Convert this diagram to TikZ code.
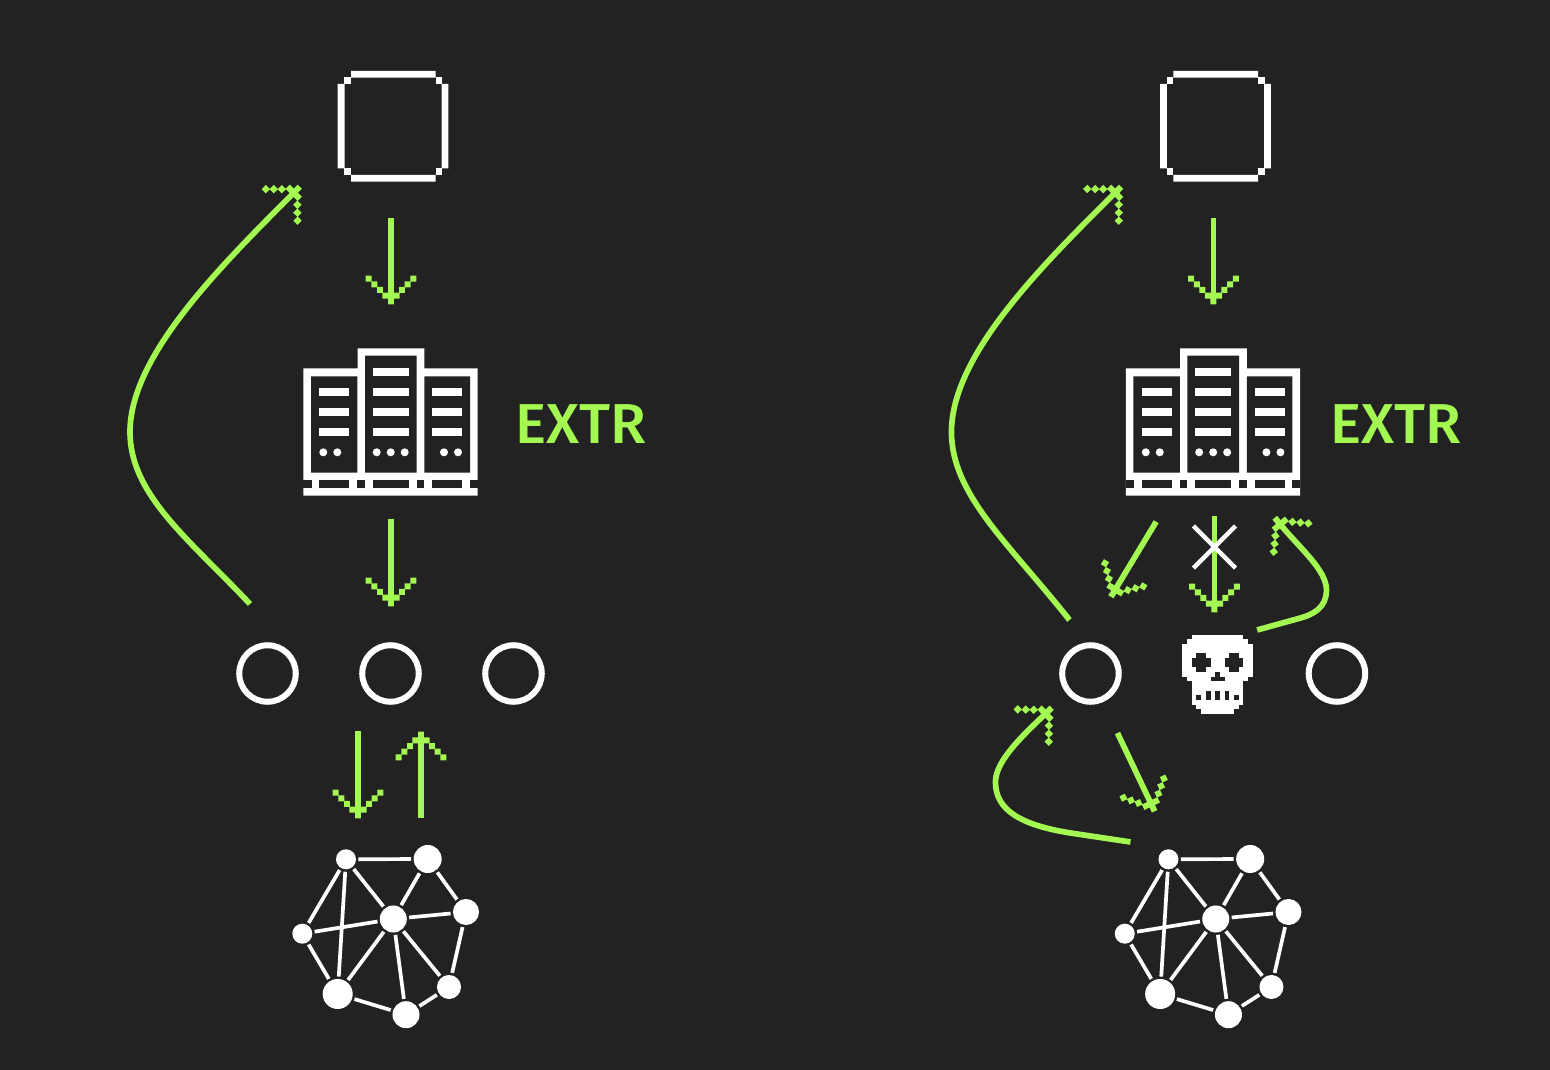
\documentclass[tikz,border=0pt]{standalone}
\usepackage{fontspec}
\setsansfont[BoldFont={Fira Sans Medium}]{Fira Sans}
\usetikzlibrary{arrows.meta,shapes.misc}
\definecolor{panelbg}{RGB}{34,34,34}
\definecolor{limeline}{RGB}{163,248,82}
\pgfdeclarearrow{
  name=PixelHead,
  setup code={
    \pgfarrowssettipend{0pt}
    \pgfarrowssetlineend{-2pt}
    \pgfarrowssetvisualbackend{-7.5pt}
    \pgfarrowssetbackend{-7.5pt}
  },
  drawing code={
    \pgfpathrectangle{\pgfpoint{-1.6pt}{-0.85pt}}{\pgfpoint{1.7pt}{1.7pt}}
    \pgfpathrectangle{\pgfpoint{-3.2pt}{-2.45pt}}{\pgfpoint{1.7pt}{4.9pt}}
    \foreach \b/\o in {4.0/3.13, 5.6/4.75, 7.2/6.36}{
      \pgfpathrectangle{\pgfpoint{-\b pt-0.85pt}{\o pt-0.85pt}}{\pgfpoint{1.7pt}{1.7pt}}
      \pgfpathrectangle{\pgfpoint{-\b pt-0.85pt}{-\o pt-0.85pt}}{\pgfpoint{1.7pt}{1.7pt}}
    }
    \pgfusepathqfill
  }
}
\tikzset{
  flow/.style={-{PixelHead}, line width=0.57mm, limeline},
  ring/.style={circle, draw=white, line width=0.6mm, minimum size=5.65mm, inner sep=0pt, outer sep=0pt},
  meshnode/.style={circle, fill=white, inner sep=0pt, outer sep=0.7pt, minimum size=#1mm},
  meshedge/.style={white, line width=0.37mm},
  extrlabel/.style={limeline, anchor=west, inner sep=0pt, xscale=1.04, transform shape, font=\sffamily\bfseries\fontsize{16}{16}\selectfont},
  crossmark/.style={cross out, draw=white, line width=0.45mm, minimum size=4.2mm, inner sep=0pt, outer sep=0pt},
  pics/pixelbox/.style={code={
    \fill[white] (13.3,0) rectangle (98,6.6) (13.3,104) rectangle (98,110.7);
    \fill[white] (0,13) rectangle (6.8,97.3) (104,13) rectangle (110.6,97.3);
    \foreach \cx/\cy in {6.6/6.3, 98/6.3, 6.6/97.3, 98/97.3}
      \fill[white] (\cx,\cy) rectangle ++(6.6,6.7);
  }},
  pics/rackicon/.style={code={
    % silhouette first, then the dark cabinets, then the shelves
    \fill[white] (0,20) -- (54.4,20) -- (54.4,0) -- (121,0) -- (121,20) -- (174.4,20) -- (174.4,147.4) -- (0,147.4) -- cycle;
    \fill[panelbg] (7.7,28) rectangle (54,124.3) (61.7,7.4) rectangle (113.4,124.3) (121,28) rectangle (166.7,124.3);
    \foreach \sy in {40,60,80}{
      \fill[white] (16,\sy) rectangle ++(30,7.7);
      \fill[white] (69.4,\sy) rectangle ++(36,7.7);
      \fill[white] (129,\sy) rectangle ++(30,7.7);
    }
    \fill[white] (69.4,20) rectangle ++(36,7.7);
    \foreach \dx in {20,34,73.4,87.4,101.4,140.7,154.7}
      \fill[white] (\dx,104) circle (4);
    \foreach \gx/\gw in {0/8.4, 16/30, 54/7.7, 69.4/36, 113.4/7.6, 129/30, 166.7/7.7}
      \fill[panelbg] (\gx,132) rectangle ++(\gw,7.7);
  }},
  pics/meshicon/.style={code={
    \node[meshnode=2]   (a) at (-47.3,-59.7) {};
    \node[meshnode=2.8] (b) at (34.4,-60)    {};
    \node[meshnode=2.6] (c) at (72.7,-7)     {};
    \node[meshnode=2.7] (d) at (0,0)         {};
    \node[meshnode=2]   (e) at (-91,14.7)    {};
    \node[meshnode=3]   (f) at (-55.6,75)    {};
    \node[meshnode=2.7] (g) at (12.7,95.7)   {};
    \node[meshnode=2.4] (h) at (55.7,68)     {};
    \foreach \p/\q in {a/b, a/e, a/f, a/d, b/d, b/c, c/d, c/h, d/e, d/f, d/g, d/h, e/f, f/g, g/h}
      \draw[meshedge] (\p) -- (\q);
  }},
  pics/skullicon/.style={code={
    \begin{scope}[x=0.467mm, y=-0.467mm]
    \foreach \c/\r/\w/\h in {2/0/11/1, 1/1/13/1, 0/2/15/7, 1/9/13/1, 2/10/11/5, 3/15/9/1, 4/16/7/1}
      \fill[white] (\c,\r) rectangle ++(\w,\h);
    \foreach \c/\r/\w/\h in {2/5/4/2, 3/4/2/4, 9/5/4/2, 10/4/2/4, 7/8/1/1, 6/9/3/1, 5/12/1/2, 7/12/1/2, 9/12/1/2, 3/13/1/1, 11/13/1/1}
      \fill[panelbg] (\c,\r) rectangle ++(\w,\h);
    \end{scope}
  }},
}
\begin{document}
\begin{tikzpicture}[x=0.01cm, y=-0.01cm]
\fill[panelbg] (0,0) rectangle (1550,1070);
\useasboundingbox (0,0) rectangle (1550,1070);
% left panel
\pic (boxL) at (337.7,71) {pixelbox};
\pic (rackL) at (303.3,348.3) {rackicon};
\node[extrlabel] (extrL) at (514.5,424.5) {EXTR};
\node[ring] (r1) at (267.5,673.5) {}; \node[ring] (r2) at (390.5,673.5) {}; \node[ring] (r3) at (513.5,673.5) {};
\pic (meshL) at (393.3,919) {meshicon};
\coordinate (l1s) at (391,218); \coordinate (l1e) at (391,304);
\coordinate (l2s) at (391,519); \coordinate (l2e) at (391,606);
\coordinate (l3s) at (358,731); \coordinate (l3e) at (358,818);
\coordinate (l4s) at (421,818); \coordinate (l4e) at (421,732);
\coordinate (l5s) at (250,604); \coordinate (l5e) at (299.5,187);
\draw[flow] (l1s) -- (l1e);
\draw[flow] (l2s) -- (l2e);
\draw[flow] (l3s) -- (l3e);
\draw[flow] (l4s) -- (l4e);
\draw[flow] (l5s) .. controls (190,540) and (130,495) .. (130,432) .. controls (130,355) and (222,265) .. (l5e);
% right panel
\begin{scope}[xshift=8.22cm]
  \pic (boxR) at (337.7,71) {pixelbox};
  \pic (rackR) at (303.3,348.3) {rackicon};
  \node[extrlabel] (extrR) at (507.5,424.5) {EXTR};
  \node[ring] (r4) at (268,673.5) {}; \node[ring] (r5) at (514.5,673.5) {};
  \pic (skull) at (360,634.7) {skullicon};
  \pic (meshR) at (393.3,919) {meshicon};
  \coordinate (m1s) at (391,218); \coordinate (m1e) at (391,304);
  \coordinate (m2s) at (392,516); \coordinate (m2e) at (392,612);
  \coordinate (m3s) at (333.7,521.7); \coordinate (m3e) at (288.6,596.5);
  \coordinate (m4s) at (434.7,630); \coordinate (m4e) at (452.5,518);
  \coordinate (m5s) at (295,733); \coordinate (m5e) at (332,811);
  \coordinate (m6s) at (308,842); \coordinate (m6e) at (229,708);
  \coordinate (m7s) at (247,620); \coordinate (m7e) at (298.5,187);
  \draw[flow] (m1s) -- (m1e);
  \draw[flow] (m2s) -- (m2e);
  \node[crossmark] (nogo) at (392,547) {};
  \draw[flow] (m3s) -- (m3e);
  \draw[flow] (m4s) -- (478,618) .. controls (500,612) and (504,600) .. (504,590) .. controls (504,570) and (478,549) .. (m4e);
  \draw[flow] (m5s) -- (m5e);
  \draw[flow] (m6s) -- (248,833) .. controls (198,825) and (173,810) .. (173,782) .. controls (173,760) and (203,733) .. (m6e);
  \draw[flow] (m7s) .. controls (188,545) and (129,495) .. (129,432) .. controls (129,355) and (220,265) .. (m7e);
\end{scope}
\end{tikzpicture}
\end{document}
